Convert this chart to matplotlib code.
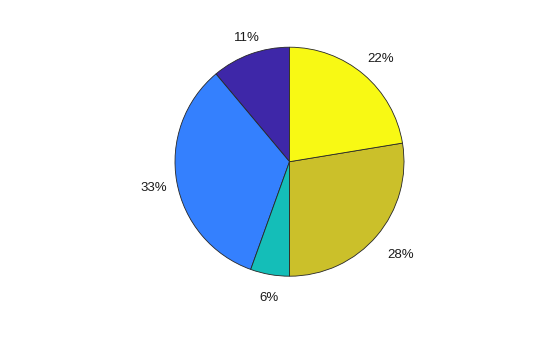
import numpy as np
import matplotlib
matplotlib.use("Agg")
import matplotlib.pyplot as plt

values = [11.1, 33.4, 5.5, 27.6, 22.4]
labels = ["11%", "33%", "6%", "28%", "22%"]
colors = ["#3E27A8", "#3480FE", "#14BEB8", "#CBC02A", "#F8F914"]

fig = plt.figure(figsize=(5.6, 3.37), dpi=100)
W, H = 560, 337
cx, cy, R = 289.5, 337 - 161.7, 114.5
ax = fig.add_axes([(cx - R) / W, (cy - R) / H, 2 * R / W, 2 * R / H])
wedges, _ = ax.pie(values, colors=colors, startangle=90, counterclock=True,
                   radius=1.0, center=(0, 0),
                   wedgeprops=dict(edgecolor="#262626", linewidth=0.6))
ax.set_xlim(-1, 1)
ax.set_ylim(-1, 1)
ax.set_aspect("equal")
ax.axis("off")

fs = 9.5
cap = 0.716 * fs * 100 / 72
for w, lab in zip(wedges, labels):
    a = np.deg2rad((w.theta1 + w.theta2) / 2)
    c, s = np.cos(a), np.sin(a)
    hw = 4.45 * len(lab)
    extra = hw * abs(c) + (3.0 if s > 0 else 9.0) * abs(s)
    ax.annotate(lab, xy=(1.1 * c, 1.1 * s),
                xytext=(extra * c + 2.5, extra * s - cap / 2),
                textcoords="offset pixels", ha="center", va="baseline",
                fontsize=fs, family="Liberation Sans", color="#1a1a1a",
                annotation_clip=False)

fig.savefig("out.png", dpi=100)
